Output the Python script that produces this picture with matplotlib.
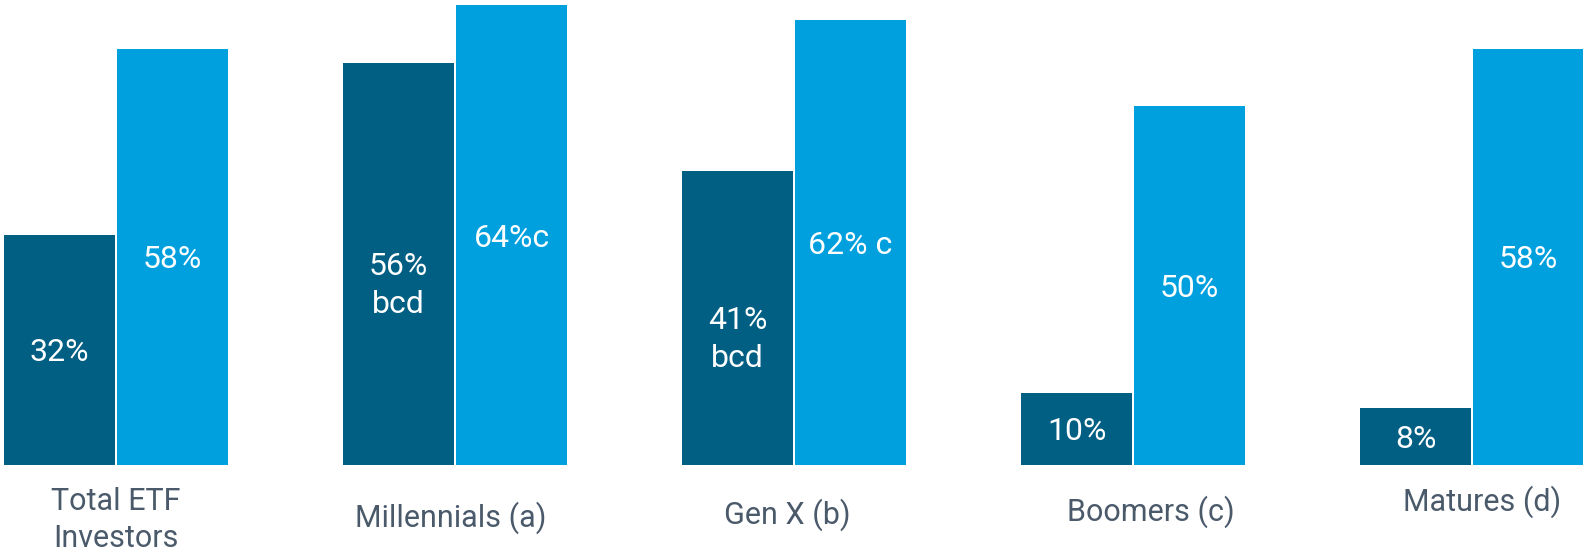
import numpy as np
import matplotlib.pyplot as plt

plt.rcParams['font.family'] = ['Roboto', 'DejaVu Sans']

# share of investors per generation, two series
groups = ['Total ETF\nInvestors', 'Millennials (a)', 'Gen X (b)', 'Boomers (c)', 'Matures (d)']
dark_vals = [32, 56, 41, 10, 8]
light_vals = [58, 64, 62, 50, 58]
dark_notes = ['', 'bcd', 'bcd', '', '']
light_labels = ['58%', '64%c', '62% c', '50%', '58%']

DARK = '#005f83'
LIGHT = '#00a0df'
TEXT = '#4a5a6a'

# category label placement (x offset from group centre, y in pixels below the baseline)
label_dx = [0.0, -0.012, -0.02, 0.053, 0.03]
label_dy = [55, 53, 50, 47, 37]

fig = plt.figure(figsize=(15.83, 5.54), dpi=100)
ax = fig.add_axes([0, 89 / 554, 1, 465 / 554])

x = np.arange(len(groups))
w = 0.327
gap = 0.003
ax.bar(x - gap, dark_vals, width=-w, align='edge', color=DARK)
ax.bar(x + gap, light_vals, width=w, align='edge', color=LIGHT)

for i in range(len(groups)):
    cx_d = x[i] - gap - w / 2
    cx_l = x[i] + gap + w / 2
    ax.annotate(f'{dark_vals[i]}%', (cx_d, dark_vals[i] / 2), xytext=(0, -2),
                textcoords='offset points', color='white', fontsize=23,
                ha='center', va='center')
    if dark_notes[i]:
        ax.annotate(dark_notes[i], (cx_d, dark_vals[i] / 2), xytext=(0, -29),
                    textcoords='offset points', color='white', fontsize=23,
                    ha='center', va='center')
    ax.annotate(light_labels[i], (cx_l, light_vals[i] / 2), xytext=(0, -2),
                textcoords='offset points', color='white', fontsize=23,
                ha='center', va='center')
    ax.annotate(groups[i], (x[i] + label_dx[i], 0), xytext=(0, -label_dy[i] * 0.72),
                textcoords='offset points', color=TEXT, fontsize=22,
                ha='center', va='center', linespacing=1.32, annotation_clip=False)

ax.set_xlim(-116 / 339, (1583 - 116) / 339)
ax.set_ylim(0, 465 / 7.18)
ax.axis('off')

fig.savefig('out.png', dpi=100)
